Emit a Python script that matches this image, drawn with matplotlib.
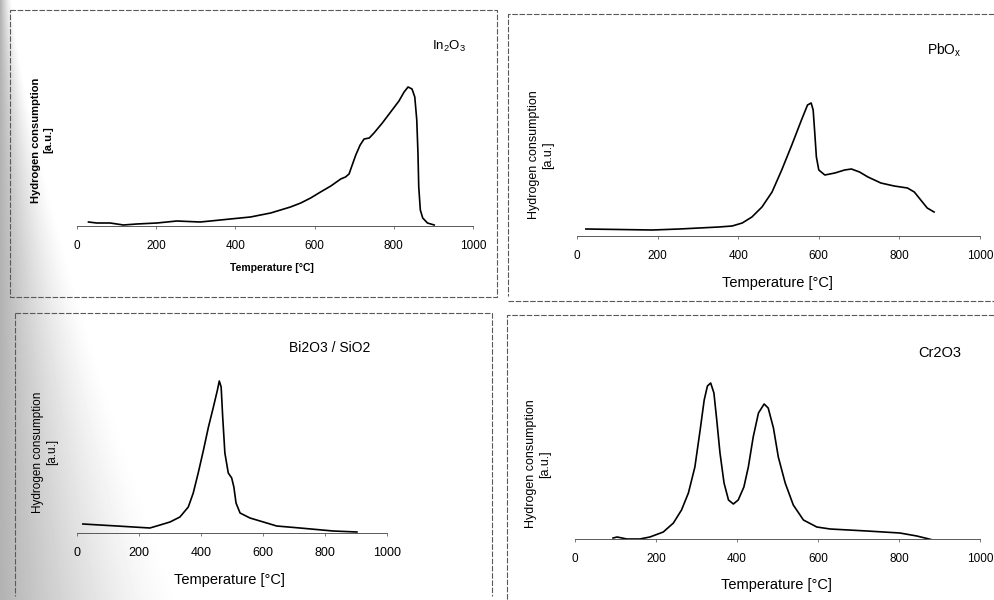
import numpy as np
import matplotlib.pyplot as plt

plt.rcParams['font.family'] = ['Liberation Sans', 'DejaVu Sans']
plt.rcParams['mathtext.fontset'] = 'custom'
plt.rcParams['mathtext.rm'] = 'Liberation Sans'
plt.rcParams['mathtext.it'] = 'Liberation Sans:italic'

W, H = 994, 600

# TPR curves: temperature [°C], hydrogen consumption [a.u.]
in_T = [29, 50, 84, 117, 151, 202, 252, 311, 337, 387, 438, 489, 539, 565, 590,
        615, 641, 666, 678, 687, 695, 704, 715, 725, 738, 750, 771, 792, 813,
        826, 836, 846, 853, 858, 861, 863, 867, 873, 885, 902]
in_h = [4, 3, 3, 1, 2, 3, 5, 4, 5, 7, 9, 13, 19, 23, 28,
        34, 40, 47, 49, 52, 61, 71, 81, 87, 88, 93, 103, 114, 125,
        134, 139, 137, 129, 106, 73, 39, 16, 8, 3, 1]

pb_T = [22, 187, 254, 352, 385, 410, 434, 459, 484, 508, 533, 557, 572, 581,
        586, 590, 594, 600, 615, 640, 664, 681, 701, 722, 754, 787, 820, 837,
        853, 869, 886]
pb_h = [7, 6, 7, 9, 10, 13, 19, 29, 44, 66, 91, 116, 131, 133,
        126, 103, 79, 66, 61, 63, 66, 67, 64, 59, 53, 50, 48, 44,
        36, 28, 24]

bi_T = [19, 129, 235, 268, 300, 332, 359, 375, 391, 408, 424, 440, 453, 459,
        465, 470, 477, 488, 499, 506, 513, 526, 558, 612, 644, 719, 826, 903]
bi_h = [9, 7, 5, 8, 11, 16, 26, 40, 60, 83, 106, 126, 143, 152,
        146, 116, 80, 60, 55, 46, 30, 20, 15, 10, 7, 5, 2, 1]

cr_T = [94, 104, 128, 160, 185, 218, 243, 263, 280, 296, 309, 319, 327, 335,
        343, 350, 358, 368, 379, 391, 403, 417, 428, 440, 453, 467, 477, 490,
        502, 519, 539, 564, 597, 630, 721, 802, 844, 894]
cr_h = [1, 2, 0, 0, 2, 7, 16, 29, 46, 72, 109, 139, 153, 156,
        146, 119, 86, 56, 39, 35, 39, 52, 72, 102, 126, 135, 131, 111,
        82, 56, 34, 19, 12, 10, 8, 6, 3, -2]

x_ticks = [0, 200, 400, 600, 800, 1000]

fig = plt.figure(figsize=(9.94, 6), dpi=100)

# background: grey scan shadow on the left and the dashed panel frames
bg = fig.add_axes([0, 0, 1, 1], zorder=-10)
X, Y = np.meshgrid(np.arange(W), np.arange(H))
reach = 12 + 170 * (Y / H) ** 1.3
dark = 0.30 * np.clip(1 - X / reach, 0, 1) ** 1.4
bg.imshow(1 - dark, cmap='gray', vmin=0, vmax=1, aspect='auto',
          extent=(0, W, H, 0), interpolation='bilinear')
bg.set_xlim(0, W)
bg.set_ylim(H, 0)
bg.axis('off')

fkw = dict(color='0.35', lw=0.8, ls=(0, (5, 1.5)))
bg.plot([10, 497, 497, 10, 10], [10, 10, 297, 297, 10], **fkw)
bg.plot([994, 508, 508], [14, 14, 296], **fkw)
bg.plot([508, 994], [301, 301], **fkw)
bg.plot([15, 492, 492], [313, 313, 596], **fkw)
bg.plot([15, 15], [313, 596], **fkw)
bg.plot([994, 507, 507], [315, 315, 600], **fkw)


def box(x0, x1, ytop, ybot):
    return [x0 / W, 1 - ybot / H, (x1 - x0) / W, (ybot - ytop) / H]


def panel(rect, T, h, top, fs):
    ax = fig.add_axes(rect)
    ax.plot(T, h, color='k', lw=1.2, solid_joinstyle='round')
    ax.set_xlim(0, 1000)
    ax.set_ylim(0, top)
    for s in ['top', 'right', 'left']:
        ax.spines[s].set_visible(False)
    ax.spines['bottom'].set_color('0.35')
    ax.spines['bottom'].set_linewidth(0.7)
    ax.set_yticks([])
    ax.set_xticks(x_ticks)
    ax.tick_params(axis='x', length=2, width=0.6, color='0.4', pad=8, labelsize=fs)
    ax.patch.set_visible(False)
    return ax


def ftext(x, y, s, **kw):
    fig.text(x / W, 1 - y / H, s, ha='center', va='center', **kw)


ylab = 'Hydrogen consumption\n[a.u.]'

# In2O3
panel(box(77, 473, 60, 226), in_T, in_h, 166, 8.5)
ftext(449, 46, 'In$_2$O$_3$', fontsize=9.5)
ftext(272, 268, 'Temperature [°C]', fontsize=7.5, fontweight='bold')
ftext(42, 140, ylab, fontsize=8, fontweight='bold', rotation=90,
      multialignment='center', linespacing=1.3)

# PbOx
panel(box(577, 980, 60, 236), pb_T, pb_h, 176, 8.5)
ftext(944, 50, 'PbO$_\\mathregular{x}$', fontsize=10)
ftext(777, 283, 'Temperature [°C]', fontsize=10.5)
ftext(541, 155, ylab, fontsize=9, rotation=90,
      multialignment='center', linespacing=1.3)

# Bi2O3 / SiO2
panel(box(77, 387, 360, 533), bi_T, bi_h, 173, 9)
ftext(330, 348, 'Bi2O3 / SiO2', fontsize=10)
ftext(229, 580, 'Temperature [°C]', fontsize=10.5)
ftext(45, 452, ylab, fontsize=8.5, rotation=90,
      multialignment='center', linespacing=1.3)

# Cr2O3
panel(box(575, 980, 360, 539), cr_T, cr_h, 179, 8.5)
ftext(940, 353, 'Cr2O3', fontsize=10.5)
ftext(776, 585, 'Temperature [°C]', fontsize=10.5)
ftext(538, 464, ylab, fontsize=9, rotation=90,
      multialignment='center', linespacing=1.3)

fig.savefig('out.png', dpi=100)
